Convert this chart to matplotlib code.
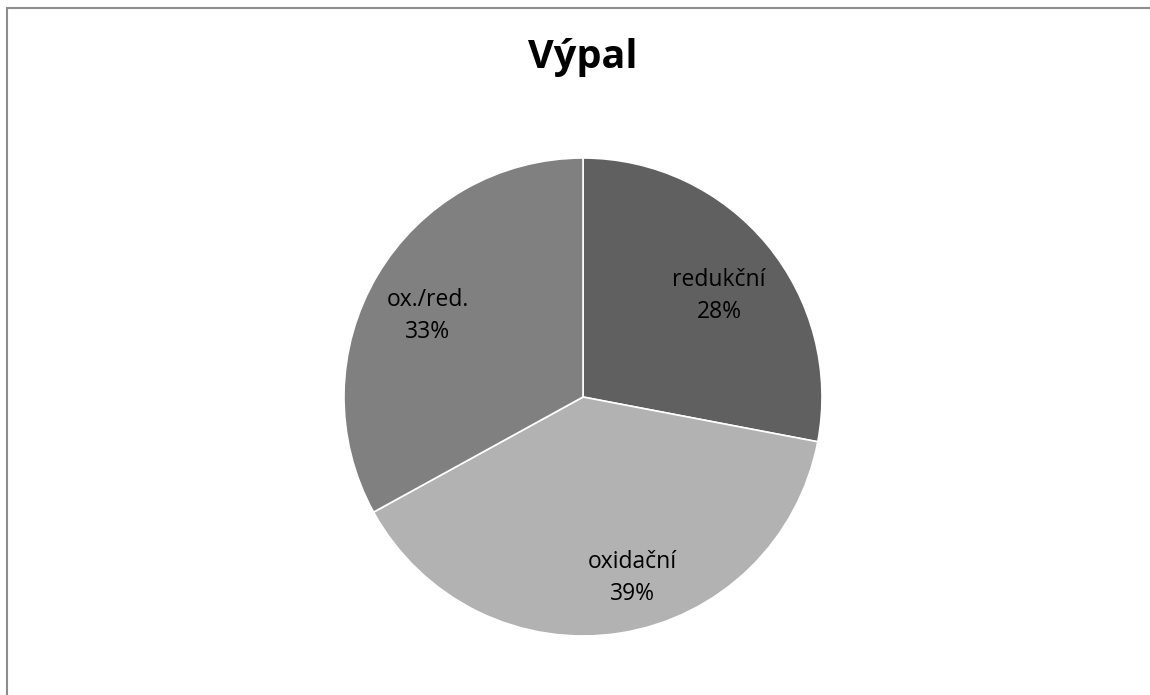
import matplotlib
matplotlib.use("Agg")
import matplotlib.pyplot as plt
from matplotlib.patches import Rectangle

categories = ["redukční", "oxidační", "ox./red."]
values = [28, 39, 33]
colors = ["#606060", "#b2b2b2", "#808080"]
title = "Výpal"

# label block centres (pie data units, radius = 1) -- layout only
label_xy = [(0.569, 0.423), (0.205, -0.757), (-0.649, 0.339)]

plt.rcParams['font.family'] = ['Open Sans', 'DejaVu Sans']

W, H = 1150, 695
fig = plt.figure(figsize=(W / 100, H / 100), dpi=100)
fig.patch.set_facecolor("white")

# outer chart border (right/bottom extend beyond canvas)
fig.patches.append(Rectangle((6.5 / W, -0.05), 1.1, 1 - 7.5 / H + 0.05,
                             transform=fig.transFigure, fill=False,
                             edgecolor="#8c8c8c", linewidth=1.5))

cx, cy, r = 583, 397, 239
ax = fig.add_axes([(cx - r) / W, 1 - (cy + r) / H, 2 * r / W, 2 * r / H])
total = sum(values)
labels = [f"{c}\n{round(v / total * 100)}%" for c, v in zip(categories, values)]
wedges, texts = ax.pie(values, labels=labels, colors=colors, startangle=90,
                       counterclock=False, labeldistance=0.73,
                       wedgeprops=dict(edgecolor="white", linewidth=1.2),
                       textprops=dict(fontsize=16.5, color="black",
                                      ha="center", va="center",
                                      multialignment="center", linespacing=1.4))
for t, xy in zip(texts, label_xy):
    t.set_position(xy)
    t.set_ha("center")
    t.set_va("center")
ax.set_xlim(-1, 1)
ax.set_ylim(-1, 1)
ax.set_aspect("auto")

fig.text(cx / W, 1 - 68 / H, title, ha="center", va="baseline",
         fontsize=28.5, fontweight="bold", color="black")

fig.savefig("out.png", dpi=100, facecolor="white")
